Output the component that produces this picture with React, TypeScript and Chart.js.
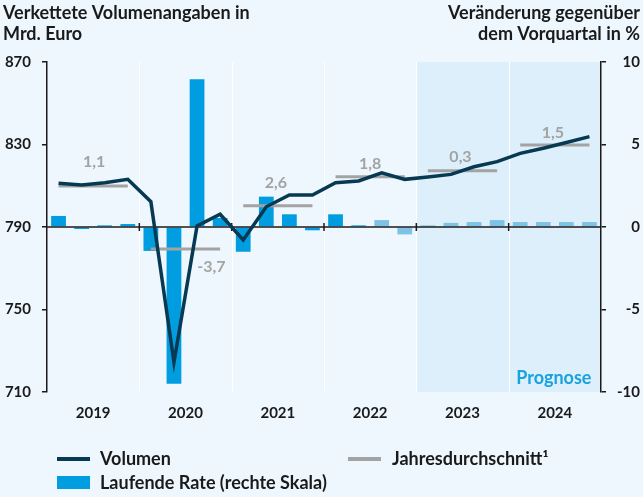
import React, { useEffect, useRef } from "react";
import { Chart, registerables } from "chart.js";

Chart.register(...registerables);

// ---------- data ----------
const years = ["2019", "2020", "2021", "2022", "2023", "2024"];
const quarters = years.flatMap((y) => ["Q1", "Q2", "Q3", "Q4"].map((q) => `${y} ${q}`));

// Verkettete Volumenangaben in Mrd. Euro (left scale)
const volumen = [
  811.2, 810.4, 811.5, 813.1,
  802.3, 724.4, 790.5, 796.2,
  783.7, 799.8, 805.5, 805.5,
  811.5, 812.3, 816.3, 813.1,
  814.2, 815.5, 819.2, 821.7,
  825.7, 828.2, 831.0, 833.8,
];

// Laufende Rate, Veränderung gegenüber Vorquartal in % (right scale)
const laufendeRate = [
  0.67, -0.12, 0.1, 0.18,
  -1.45, -9.5, 8.95, 0.55,
  -1.5, 1.84, 0.77, -0.2,
  0.77, 0.1, 0.42, -0.45,
  0.1, 0.25, 0.3, 0.42,
  0.3, 0.3, 0.3, 0.3,
];

// Jahresdurchschnitt (level, left scale) and its annual rate label
const jahresdurchschnitt = [809.9, 779.3, 800.3, 814.4, 817.3, 829.8];
const jahresrate = ["1,1", "-3,7", "2,6", "1,8", "0,3", "1,5"];

const leftMin = 710;
const leftMax = 870;
const leftStep = 40;
const rightMin = -10;
const rightMax = 10;
const rightStep = 5;

const firstForecastQuarter = 16; // 2023 Q1
const firstLightBar = 14; // 2022 Q3

// ---------- styles ----------
const FONT = "Lato";
const BG = "#EEF7FE";
const SHADE = "#DCEFFB";
const DARK = "#1a1a1a";
const NAVY = "#073A52";
const BAR = "#009EE0";
const BAR_LIGHT = "#7DC3E5";
const GRAY = "#A3A3A3";
const PROGNOSE = "#19A2E0";

// label offsets (px) relative to the annual average line: [dx, dy]
const rateLabelOffset: [number, number][] = [
  [1, -24],
  [26, 18],
  [-2, -23],
  [0, -13],
  [-2, -14],
  [-2, -12],
];

const decor = {
  id: "decor",
  beforeDraw(chart: any) {
    const { ctx, chartArea: a, scales } = chart;
    const x = scales.x;
    const bx = (i: number) => (x.getPixelForValue(i - 1) + x.getPixelForValue(i)) / 2;
    ctx.save();
    ctx.fillStyle = BG;
    ctx.fillRect(0, 0, chart.width, chart.height);
    const fx = bx(firstForecastQuarter);
    ctx.fillStyle = SHADE;
    ctx.fillRect(fx, a.top, a.right - fx, a.bottom - a.top);
    ctx.strokeStyle = "#ffffff";
    ctx.lineWidth = 1.2;
    for (let y = 1; y < years.length; y++) {
      const px = Math.round(bx(4 * y)) + 0.5;
      ctx.beginPath();
      ctx.moveTo(px, a.top);
      ctx.lineTo(px, a.bottom);
      ctx.stroke();
    }
    ctx.restore();
  },
  afterDatasetDraw(chart: any, args: any) {
    if (args.meta.type !== "bar") return;
    const { ctx, chartArea: a, scales } = chart;
    const x = scales.x;
    const y0 = scales.yR.getPixelForValue(0);
    const bx = (i: number) => (x.getPixelForValue(i - 1) + x.getPixelForValue(i)) / 2;
    ctx.save();
    ctx.strokeStyle = DARK;
    ctx.lineWidth = 1.5;
    ctx.beginPath();
    ctx.moveTo(a.left, y0);
    ctx.lineTo(a.right, y0);
    ctx.stroke();
    for (let y = 1; y < years.length; y++) {
      const px = bx(4 * y);
      ctx.beginPath();
      ctx.moveTo(px, y0 - 4);
      ctx.lineTo(px, y0 + 4);
      ctx.stroke();
    }
    ctx.restore();
  },
  afterDraw(chart: any) {
    const { ctx, chartArea: a, scales } = chart;
    const x = scales.x;
    const yL = scales.yL;
    ctx.save();
    ctx.textBaseline = "middle";

    // titles
    ctx.font = `bold 18px ${FONT}`;
    ctx.fillStyle = DARK;
    ctx.textAlign = "left";
    ctx.fillText("Verkettete Volumenangaben in", 3, 13);
    ctx.fillText("Mrd. Euro", 3, 34);
    ctx.textAlign = "right";
    ctx.fillText("Veränderung gegenüber", 640, 13);
    ctx.fillText("dem Vorquartal in %", 640, 34);

    // year labels
    ctx.font = `bold 15px ${FONT}`;
    ctx.textAlign = "center";
    years.forEach((yr, i) => {
      const cx = (x.getPixelForValue(4 * i) + x.getPixelForValue(4 * i + 3)) / 2;
      ctx.fillText(yr, cx, 413);
    });

    // annual rate labels
    ctx.font = `bold 16px ${FONT}`;
    ctx.fillStyle = GRAY;
    jahresrate.forEach((t, i) => {
      const cx = (x.getPixelForValue(4 * i) + x.getPixelForValue(4 * i + 3)) / 2;
      const cy = yL.getPixelForValue(jahresdurchschnitt[i]);
      const [dx, dy] = rateLabelOffset[i];
      ctx.fillText(t, cx + dx, cy + dy);
    });

    // Prognose
    ctx.font = `bold 18px ${FONT}`;
    ctx.fillStyle = PROGNOSE;
    ctx.textAlign = "right";
    ctx.fillText("Prognose", x.getPixelForValue(quarters.length - 1) + 2, a.bottom - 14);

    // legend
    ctx.textAlign = "left";
    ctx.fillStyle = DARK;
    ctx.font = `bold 18px ${FONT}`;
    ctx.lineWidth = 4;
    ctx.strokeStyle = NAVY;
    ctx.beginPath();
    ctx.moveTo(57, 459);
    ctx.lineTo(90, 459);
    ctx.stroke();
    ctx.fillText("Volumen", 100, 459);
    ctx.strokeStyle = GRAY;
    ctx.beginPath();
    ctx.moveTo(348, 459);
    ctx.lineTo(381, 459);
    ctx.stroke();
    ctx.fillText("Jahresdurchschnitt¹", 392, 459);
    ctx.fillStyle = BAR;
    ctx.fillRect(57, 476, 33, 13);
    ctx.fillStyle = DARK;
    ctx.fillText("Laufende Rate (rechte Skala)", 100, 483);
    ctx.restore();
  },
};

export default function App() {
  const ref = useRef<HTMLCanvasElement>(null);
  useEffect(() => {
    document.body.style.margin = "0";
    const tickFont = { family: FONT, size: 15, weight: "bold" as const };
    const chart = new Chart(ref.current!, {
      type: "bar",
      data: {
        labels: quarters,
        datasets: [
          {
            type: "line",
            label: "Volumen",
            data: volumen,
            yAxisID: "yL",
            borderColor: NAVY,
            borderWidth: 3.5,
            pointRadius: 0,
            tension: 0,
            order: 1,
          },
          {
            type: "line",
            label: "Jahresdurchschnitt",
            data: quarters.map((_, i) => jahresdurchschnitt[Math.floor(i / 4)]),
            yAxisID: "yL",
            borderColor: GRAY,
            borderWidth: 3,
            pointRadius: 0,
            tension: 0,
            order: 2,
            segment: {
              borderColor: (c: any) =>
                Math.floor(c.p0DataIndex / 4) === Math.floor(c.p1DataIndex / 4) ? GRAY : "rgba(0,0,0,0)",
            },
          } as any,
          {
            type: "bar",
            label: "Laufende Rate (rechte Skala)",
            data: laufendeRate,
            yAxisID: "yR",
            backgroundColor: laufendeRate.map((_, i) => (i >= firstLightBar ? BAR_LIGHT : BAR)),
            borderWidth: 0,
            barPercentage: 0.64,
            categoryPercentage: 1,
            order: 3,
          },
        ],
      },
      options: {
        responsive: false,
        animation: false,
        events: [],
        layout: { padding: { left: 0, right: 3, top: 62, bottom: 105 } },
        plugins: { legend: { display: false }, tooltip: { enabled: false } },
        scales: {
          x: { display: false, offset: true },
          yL: {
            position: "left",
            min: leftMin,
            max: leftMax,
            afterFit: (s: any) => {
              s.width = 47;
            },
            ticks: { stepSize: leftStep, padding: 11, font: tickFont, color: DARK },
            grid: { drawOnChartArea: false, drawTicks: true, tickLength: 5, color: DARK, lineWidth: 1.5 },
            border: { display: true, color: DARK, width: 1.5 },
          },
          yR: {
            position: "right",
            min: rightMin,
            max: rightMax,
            afterFit: (s: any) => {
              s.width = 39;
            },
            ticks: { stepSize: rightStep, padding: 4, crossAlign: "far", font: tickFont, color: DARK },
            grid: { drawOnChartArea: false, drawTicks: true, tickLength: 5, color: DARK, lineWidth: 1.5 },
            border: { display: true, color: DARK, width: 1.5 },
          },
        },
      },
      plugins: [decor],
    } as any);
    return () => chart.destroy();
  }, []);
  return (
    <div style={{ width: 643, height: 497, background: BG }}>
      <canvas ref={ref} width={643} height={497} style={{ display: "block", width: 643, height: 497 }} />
    </div>
  );
}
